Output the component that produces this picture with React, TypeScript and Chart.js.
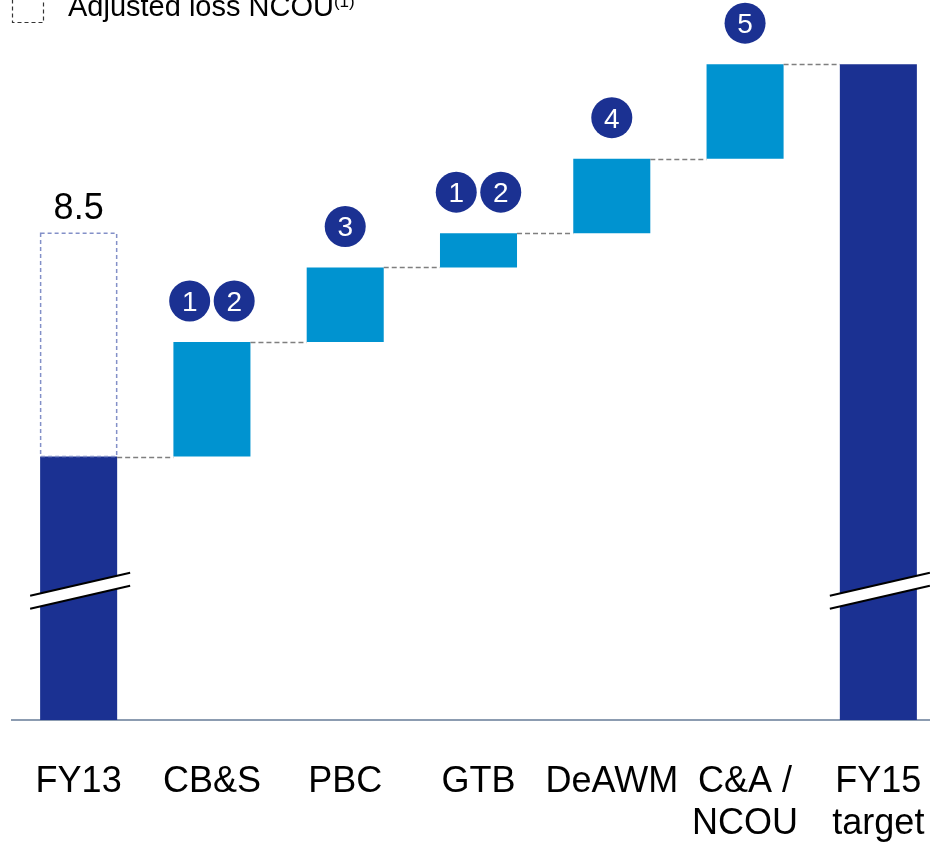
import React, { useEffect, useRef } from 'react';
import { Chart, registerables } from 'chart.js';

Chart.register(...registerables);

// ---- data ----
const categories: (string | string[])[] = ['FY13', 'CB&S', 'PBC', 'GTB', 'DeAWM', ['C&A /', 'NCOU'], ['FY15', 'target']];
const fy13Value = 4.6; // FY13 (broken axis)
const fy13Adjusted = 8.5; // FY13 incl. adjusted loss NCOU
const fy13AdjustedLabel = '8.5';
const deltas = [2.0, 1.3, 0.6, 1.3, 1.65]; // CB&S, PBC, GTB, DeAWM, C&A / NCOU
const markers: string[][] = [[], ['1', '2'], ['3'], ['1', '2'], ['4'], ['5'], []];
const breakValue = 2.25;

// ---- derived ----
const ranges: [number, number][] = [];
let cum = fy13Value;
ranges.push([0, fy13Value]);
deltas.forEach((d) => {
  ranges.push([cum, cum + d]);
  cum += d;
});
ranges.push([0, cum]);
const ends = ranges.map((r) => r[1]);
const adjustedData = categories.map((_, i) => (i === 0 ? [fy13Value, fy13Adjusted] : null));

const NAVY = '#1b3192';
const LIGHT = '#0093d0';
const FONT = "'Liberation Sans', Arial, sans-serif";

const overlayPlugin = {
  id: 'waterfallOverlay',
  afterDatasetsDraw(chart: any) {
    const ctx = chart.ctx;
    const yScale = chart.scales.y;
    const meta0 = chart.getDatasetMeta(0);
    const meta1 = chart.getDatasetMeta(1);
    const bars = meta1.data.map((el: any) => el.getProps(['x', 'y', 'base', 'width'], true));

    ctx.save();
    // dashed adjusted box
    const a = meta0.data[0].getProps(['x', 'y', 'base', 'width'], true);
    const aTop = Math.min(a.y, a.base);
    const aBot = Math.max(a.y, a.base);
    ctx.setLineDash([4, 3]);
    ctx.strokeStyle = '#8390c8';
    ctx.lineWidth = 1.5;
    ctx.strokeRect(a.x - a.width / 2 + 0.5, aTop, a.width - 1, aBot - aTop);
    ctx.setLineDash([]);
    ctx.fillStyle = '#000';
    ctx.font = `36px ${FONT}`;
    ctx.textAlign = 'center';
    ctx.textBaseline = 'alphabetic';
    ctx.fillText(fy13AdjustedLabel, a.x, aTop - 14);

    // connectors
    ctx.setLineDash([5, 3]);
    ctx.strokeStyle = '#7f7f7f';
    ctx.lineWidth = 1.5;
    for (let i = 0; i < bars.length - 1; i++) {
      const b = bars[i];
      const n = bars[i + 1];
      const y = Math.round(yScale.getPixelForValue(ends[i])) + 0.5;
      ctx.beginPath();
      ctx.moveTo(b.x + b.width / 2, y);
      ctx.lineTo(n.x - n.width / 2, y);
      ctx.stroke();
    }
    ctx.setLineDash([]);

    // axis breaks
    [0, bars.length - 1].forEach((i) => {
      const b = bars[i];
      const cy = yScale.getPixelForValue(breakValue);
      const x1 = b.x - b.width / 2 - 10;
      const x2 = b.x + b.width / 2 + 13;
      const slope = -0.23;
      const yAt = (x: number) => cy + (x - b.x) * slope;
      const g = 6.5;
      ctx.fillStyle = '#fff';
      ctx.beginPath();
      ctx.moveTo(x1, yAt(x1) - g);
      ctx.lineTo(x2, yAt(x2) - g);
      ctx.lineTo(x2, yAt(x2) + g);
      ctx.lineTo(x1, yAt(x1) + g);
      ctx.closePath();
      ctx.fill();
      ctx.strokeStyle = '#000';
      ctx.lineWidth = 2;
      [-g, g].forEach((o) => {
        ctx.beginPath();
        ctx.moveTo(x1, yAt(x1) + o);
        ctx.lineTo(x2, yAt(x2) + o);
        ctx.stroke();
      });
    });

    // numbered markers
    ctx.font = `28px ${FONT}`;
    ctx.textAlign = 'center';
    ctx.textBaseline = 'alphabetic';
    markers.forEach((m, i) => {
      if (!m.length) return;
      const b = bars[i];
      const top = Math.min(b.y, b.base);
      const cy = top - 41;
      const step = 44.5;
      m.forEach((txt, k) => {
        const cx = b.x + (k - (m.length - 1) / 2) * step;
        ctx.fillStyle = NAVY;
        ctx.beginPath();
        ctx.arc(cx, cy, 20.5, 0, Math.PI * 2);
        ctx.fill();
        ctx.fillStyle = '#fff';
        ctx.fillText(txt, cx, cy + 10);
      });
    });
    ctx.restore();
  },
};

export default function App() {
  const ref = useRef<HTMLCanvasElement | null>(null);

  useEffect(() => {
    document.body.style.margin = '0';
    if (!ref.current) return;
    Chart.defaults.font.family = FONT;
    const chart = new Chart(ref.current, {
      type: 'bar',
      data: {
        labels: categories as any,
        datasets: [
          {
            label: 'Adjusted loss NCOU',
            data: adjustedData as any,
            backgroundColor: 'rgba(0,0,0,0)',
            borderWidth: 0,
            grouped: false,
            categoryPercentage: 1,
            barPercentage: 0.578,
          } as any,
          {
            label: 'Contribution',
            data: ranges as any,
            backgroundColor: ranges.map((_, i) => (i === 0 || i === ranges.length - 1 ? NAVY : LIGHT)),
            borderWidth: 0,
            grouped: false,
            categoryPercentage: 1,
            barPercentage: 0.578,
          } as any,
        ],
      },
      options: {
        responsive: false,
        animation: false,
        layout: { padding: { left: 12, right: 0, top: 0, bottom: 0 } },
        plugins: {
          legend: { display: false },
          tooltip: { enabled: false },
        },
        scales: {
          x: {
            grid: { display: false, drawTicks: false },
            border: { display: true, color: '#8c9cb1', width: 2 },
            ticks: {
              autoSkip: false,
              maxRotation: 0,
              minRotation: 0,
              padding: 41,
              color: '#000',
              font: { size: 36, lineHeight: 1.17, family: FONT },
            },
            afterFit: (scale: any) => {
              scale.paddingLeft = 0;
              scale.paddingRight = 0;
              scale.height = 125;
            },
          } as any,
          y: {
            display: false,
            min: 0,
            max: 12.57,
          },
        },
      },
      plugins: [overlayPlugin],
    });
    return () => chart.destroy();
  }, []);

  return (
    <div style={{ position: 'relative', width: 930, height: 845, overflow: 'hidden', background: '#fff' }}>
      <canvas ref={ref} width={945} height={845} style={{ display: 'block', width: 945, height: 845 }} />
      <svg style={{ position: 'absolute', left: 11, top: -10 }} width={34} height={35}>
        <rect x={1.5} y={1.5} width={31} height={31} fill="none" stroke="#333" strokeWidth={1.2} strokeDasharray="4,3" />
      </svg>
      <div
        style={{
          position: 'absolute',
          left: 68,
          top: -8.5,
          fontFamily: FONT,
          fontSize: 29,
          lineHeight: '29px',
          color: '#000',
          whiteSpace: 'nowrap',
        }}
      >
        Adjusted loss NCOU
        <span style={{ fontSize: 17, position: 'relative', top: -9 }}>(1)</span>
      </div>
    </div>
  );
}
